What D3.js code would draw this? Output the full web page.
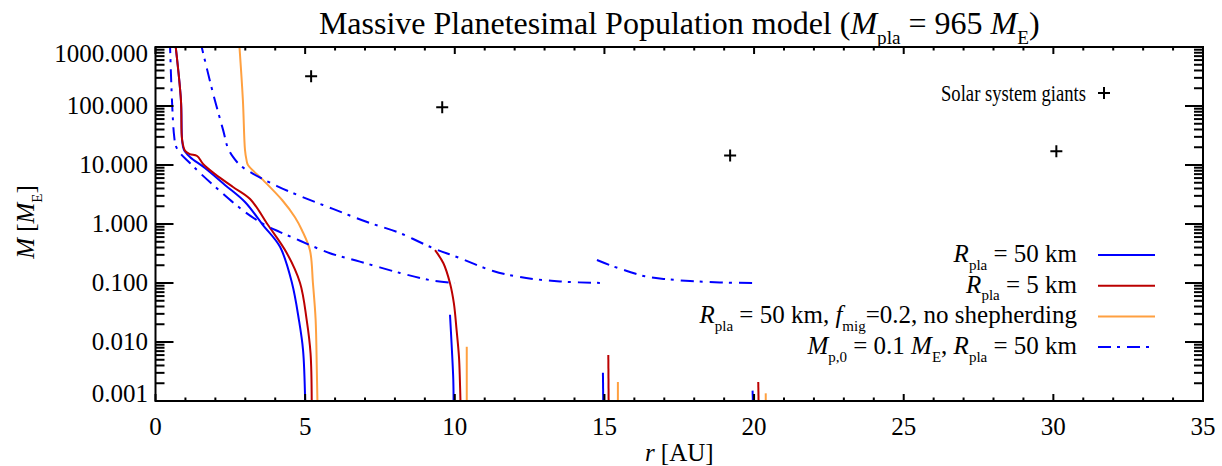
<!DOCTYPE html>
<html>
<head>
<meta charset="utf-8">
<script src="https://cdn.jsdelivr.net/npm/d3@7"></script>
<style>
  body { margin: 0; background: #fff; }
  svg text { font-family: "Liberation Serif", "Times New Roman", Times, "DejaVu Serif", serif; fill: #000; white-space: pre; }
</style>
</head>
<body>
<svg id="chart" width="1222" height="466"></svg>
<script>
// axis ticks
const xTicks = [0, 5, 10, 15, 20, 25, 30, 35];
const yTicks = [0.001, 0.01, 0.1, 1, 10, 100, 1000];
const yTickLabels = ['0.001', '0.010', '0.100', '1.000', '10.000', '100.000', '1000.000'];

// solar system giants (r [AU], M [M_E])
const giantsR = [5.2, 9.58, 19.2, 30.1];
const giantsM = [317.8, 95.2, 14.5, 17.1];

// R_pla = 50 km (one segment per planet)
const rpla50R = [
  [0.65, 0.85, 0.89, 0.95, 1.15, 1.65, 2.32, 2.99, 3.59, 4.16, 4.56, 4.79, 4.93, 5.0],
  [9.84, 9.9, 9.95, 9.96],
  [14.95, 14.96],
  [19.95, 19.96]
];
const rpla50M = [
  [1300, 126, 26.5, 18, 13.7, 8.9, 4.6, 2.36, 0.96, 0.41, 0.1, 0.024, 0.0073, 0.001],
  [0.029, 0.008, 0.0023, 0.001],
  [0.003, 0.001],
  [0.0015, 0.001]
];

// R_pla = 5 km
const rpla5R = [
  [0.65, 0.85, 0.89, 0.99, 1.15, 1.39, 1.59, 1.99, 2.59, 3.16, 3.76, 4.39, 4.83, 5.05, 5.18, 5.22],
  [9.34, 9.62, 9.84, 9.97, 10.06, 10.14, 10.17, 10.19],
  [15.13, 15.14],
  [20.14, 20.15]
];
const rpla5M = [
  [1300, 126, 26.5, 17.3, 15.3, 14.2, 10.4, 7.0, 4.24, 2.65, 0.96, 0.32, 0.1, 0.024, 0.0065, 0.001],
  [0.36, 0.216, 0.099, 0.045, 0.016, 0.0056, 0.0023, 0.001],
  [0.006, 0.001],
  [0.0021, 0.001]
];

// R_pla = 50 km, f_mig = 0.2, no shepherding
const fmigR = [
  [2.79, 2.92, 2.99, 3.04, 3.09, 3.59, 4.23, 4.66, 4.89, 5.16, 5.26, 5.35, 5.39, 5.41],
  [10.4, 10.4],
  [15.45, 15.45],
  [20.39, 20.39]
];
const fmigM = [
  [1300, 126, 18, 12.2, 10, 5.6, 2.55, 1.3, 0.79, 0.36, 0.1, 0.024, 0.0034, 0.001],
  [0.0083, 0.001],
  [0.0021, 0.001],
  [0.00135, 0.001]
];

// M_p,0 = 0.1 M_E, R_pla = 50 km
const mp01R = [
  [0.48, 0.55, 0.62, 0.68, 0.82, 1.15, 1.49, 2.16, 2.99, 3.66, 4.16, 4.83, 5.83, 6.83, 8.17, 9.17, 10.0],
  [1.49, 1.92, 2.26, 2.42, 2.59, 2.82, 3.16, 4.06, 4.83, 5.93, 7.07, 8.17, 9.27, 10.07, 11.28, 12.18, 13.52, 15.02],
  [14.75, 15.19, 15.75, 16.35, 17.02, 17.86, 18.86, 20.03]
];
const mp01M = [
  [1300, 126, 32, 21, 16, 10.8, 7.3, 3.6, 1.6, 0.96, 0.73, 0.52, 0.32, 0.23, 0.148, 0.112, 0.1],
  [1300, 166, 39, 19.4, 13.7, 10, 7.6, 4.4, 2.98, 1.8, 1.08, 0.7, 0.39, 0.276, 0.16, 0.126, 0.106, 0.1],
  [0.245, 0.2, 0.16, 0.13, 0.117, 0.108, 0.102, 0.1]
];

const series = [
  { r: rpla50R, m: rpla50M, color: '#0000ff', dash: null,
    label: [['R', 'i'], ['pla', 's'], [' = 50 km', '']] },
  { r: rpla5R, m: rpla5M, color: '#bb0000', dash: null,
    label: [['R', 'i'], ['pla', 's'], [' = 5 km', '']] },
  { r: fmigR, m: fmigM, color: '#ffa040', dash: null,
    label: [['R', 'i'], ['pla', 's'], [' = 50 km, ', ''], ['f', 'i'], ['mig', 's'], ['=0.2, no shepherding', '']] },
  { r: mp01R, m: mp01M, color: '#0000ff', dash: '13,6,3,7',
    label: [['M', 'i'], ['p,0', 's'], [' = 0.1 ', ''], ['M', 'i'], ['E', 's'], [', ', ''], ['R', 'i'], ['pla', 's'], [' = 50 km', '']] }
];

const svg = d3.select('#chart');
const box = { left: 155.5, right: 1203, top: 47, bottom: 401 };

const x = d3.scaleLinear().domain([0, 35]).range([box.left, box.right]);
const y = d3.scaleLog().domain([0.001, 1000]).range([box.bottom, box.top]);

// text with italic / subscript parts
const richText = (g, px, py, parts, size, anchor) => {
  const t = g.append('text')
    .attr('x', px).attr('y', py)
    .attr('text-anchor', anchor)
    .style('font-size', size + 'px');
  let down = false;
  parts.forEach(([s, f]) => {
    const ts = t.append('tspan').text(s);
    if (f === 'i') ts.style('font-style', 'italic');
    if (f === 's') {
      ts.style('font-size', (size * 0.6) + 'px').attr('dy', size * 0.3);
      down = true;
    } else if (down) {
      ts.attr('dy', -size * 0.3);
      down = false;
    }
  });
  return t;
};

svg.append('clipPath').attr('id', 'clip')
  .append('rect').attr('x', box.left).attr('y', box.top)
  .attr('width', box.right - box.left).attr('height', box.bottom - box.top);

const plot = svg.append('g').attr('clip-path', 'url(#clip)');

const line = d3.line()
  .x((d) => x(d[0]))
  .y((d) => y(d[1]))
  .curve(d3.curveCatmullRom.alpha(0.5));

series.forEach((s) => {
  s.r.forEach((rs, k) => {
    const pts = rs.map((r, i) => [r, s.m[k][i]]);
    plot.append('path')
      .attr('d', line(pts))
      .attr('fill', 'none')
      .attr('stroke', s.color)
      .attr('stroke-width', 2)
      .attr('stroke-dasharray', s.dash);
  });
});

// solar system giants
const plus = (g, px, py) => {
  g.append('path')
    .attr('d', `M${px - 6},${py}H${px + 6}M${px},${py - 6}V${py + 6}`)
    .attr('stroke', '#000').attr('stroke-width', 2);
};
giantsR.forEach((r, i) => plus(svg, x(r), y(giantsM[i])));

// axes box
const axes = svg.append('g').attr('stroke', '#000').attr('stroke-width', 2).attr('fill', 'none');
axes.append('rect').attr('x', box.left).attr('y', box.top)
  .attr('width', box.right - box.left).attr('height', box.bottom - box.top);

// x ticks (bottom and top)
d3.range(0, 36, 1).forEach((v) => {
  const len = v % 5 === 0 ? 7 : 3.5;
  axes.append('line').attr('x1', x(v)).attr('x2', x(v)).attr('y1', box.bottom).attr('y2', box.bottom - len);
  axes.append('line').attr('x1', x(v)).attr('x2', x(v)).attr('y1', box.top).attr('y2', box.top + len);
});

// y ticks (left and right)
yTicks.forEach((v, i) => {
  [1, 2, 3, 4, 5, 6, 7, 8, 9].forEach((k) => {
    const val = v * k;
    if (k > 1 && i === yTicks.length - 1) return;
    const len = k === 1 ? 18 : 9;
    axes.append('line').attr('x1', box.left).attr('x2', box.left + len).attr('y1', y(val)).attr('y2', y(val));
    axes.append('line').attr('x1', box.right).attr('x2', box.right - len).attr('y1', y(val)).attr('y2', y(val));
  });
});

// tick labels
xTicks.forEach((v) => {
  svg.append('text').attr('x', x(v)).attr('y', 435)
    .attr('text-anchor', 'middle').style('font-size', '25px').text(v);
});
yTicks.forEach((v, i) => {
  let off = 8;
  if (i === 0) off = 1;
  if (i === yTicks.length - 1) off = 15;
  svg.append('text').attr('x', 148).attr('y', y(v) + off)
    .attr('text-anchor', 'end').style('font-size', '25px').text(yTickLabels[i]);
});

// title and axis titles
richText(svg, (box.left + box.right) / 2, 34,
  [['Massive Planetesimal Population model (', ''], ['M', 'i'], ['pla', 's'], [' = 965 ', ''], ['M', 'i'], ['E', 's'], [')', '']],
  32, 'middle');
richText(svg, (box.left + box.right) / 2, 461, [['r', 'i'], [' [AU]', '']], 25, 'middle');
const yl = svg.append('g').attr('transform', 'translate(34,222) rotate(-90)');
richText(yl, 0, 0, [['M', 'i'], [' [', ''], ['M', 'i'], ['E', 's'], [']', '']], 25, 'middle');

// legend
series.forEach((s, i) => {
  const ly = 255 + i * 30.7;
  svg.append('line').attr('x1', 1098).attr('x2', 1155).attr('y1', ly).attr('y2', ly)
    .attr('stroke', s.color).attr('stroke-width', 2).attr('stroke-dasharray', s.dash);
  richText(svg, 1077, ly + 7, s.label, 25, 'end');
});
svg.append('text').attr('x', 941).attr('y', 101)
  .attr('textLength', 145).attr('lengthAdjust', 'spacingAndGlyphs')
  .style('font-size', '23px').text('Solar system giants');
plus(svg, 1104, 93);
</script>
</body>
</html>
